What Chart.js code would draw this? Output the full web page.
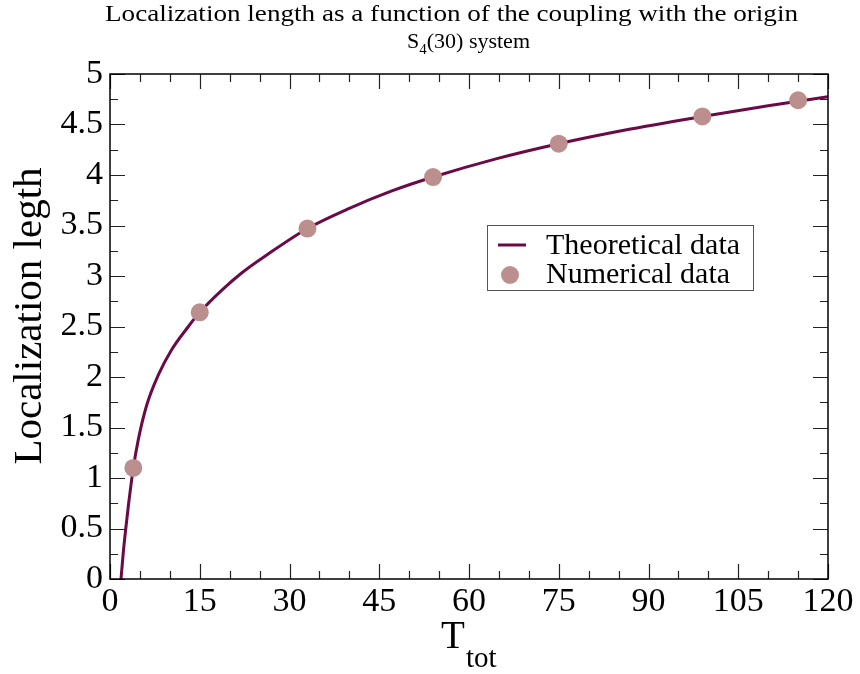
<!DOCTYPE html>
<html>
<head>
<meta charset="utf-8">
<script src="https://cdn.jsdelivr.net/npm/chart.js@4.4.0/dist/chart.umd.min.js"></script>
<style>
  html, body { margin: 0; padding: 0; background: #fff; }
  #wrap { width: 860px; height: 674px; }
</style>
</head>
<body>
<div id="wrap"><canvas id="chart" width="860" height="674"></canvas></div>
<script>
// values
const theoryX = [1.84, 2.2, 2.62, 3.06, 3.9, 4.73, 6.13, 8.08, 10.3, 13.1, 15.0, 18.7, 22.0, 26.5, 33.0, 40.0, 47.0, 54.0, 64.5, 75.0, 87.0, 99.0, 110.0, 120.0];
const theoryY = [0, 0.25, 0.49, 0.72, 1.10, 1.38, 1.72, 2.02, 2.27, 2.50, 2.64, 2.86, 3.03, 3.22, 3.47, 3.67, 3.84, 3.98, 4.16, 4.31, 4.455, 4.58, 4.685, 4.775];
const numX = [3.9, 15, 33, 54, 75, 99, 115];
const numY = [1.10, 2.64, 3.47, 3.98, 4.31, 4.58, 4.74];

const xTicks = [0, 15, 30, 45, 60, 75, 90, 105, 120];
const yTicks = [0, 0.5, 1, 1.5, 2, 2.5, 3, 3.5, 4, 4.5, 5];
const xMinorStep = 5;
const yMinorStep = 0.25;

const LINE_COLOR = '#6a0a47';
const POINT_COLOR = '#bc8f8f';
const SERIF = '"Liberation Serif", "DejaVu Serif", serif';

// frame, inward ticks (both sides), legend, titles
const decorations = {
    id: 'decorations',
    afterDraw(chart) {
        const ctx = chart.ctx;
        const a = chart.chartArea;
        const xs = chart.scales.x, ys = chart.scales.y;
        ctx.save();

        // inward ticks
        ctx.strokeStyle = '#222';
        ctx.lineWidth = 1.2;
        ctx.beginPath();
        for (let v = xs.min; v <= xs.max + 1e-9; v += xMinorStep) {
            const px = Math.round(xs.getPixelForValue(v)) + 0.5;
            const len = xTicks.includes(v) ? 15 : 8;
            ctx.moveTo(px, a.bottom); ctx.lineTo(px, a.bottom - len);
            ctx.moveTo(px, a.top); ctx.lineTo(px, a.top + len);
        }
        for (let v = ys.min; v <= ys.max + 1e-9; v += yMinorStep) {
            const py = Math.round(ys.getPixelForValue(v)) + 0.5;
            const len = yTicks.some(t => Math.abs(t - v) < 1e-9) ? 15 : 8;
            ctx.moveTo(a.left, py); ctx.lineTo(a.left + len, py);
            ctx.moveTo(a.right, py); ctx.lineTo(a.right - len, py);
        }
        ctx.stroke();

        // frame
        ctx.strokeStyle = '#000';
        ctx.lineWidth = 1.5;
        ctx.strokeRect(a.left, a.top, a.right - a.left, a.bottom - a.top);

        // legend
        const lx = 487, ly = 225, lw = 266, lh = 65;
        ctx.fillStyle = '#fff';
        ctx.fillRect(lx, ly, lw, lh);
        ctx.strokeStyle = '#555';
        ctx.lineWidth = 1;
        ctx.strokeRect(lx + 0.5, ly + 0.5, lw, lh);
        const ds = chart.data.datasets;
        ctx.font = '30px ' + SERIF;
        ctx.fillStyle = '#000';
        ctx.textAlign = 'left';
        ctx.textBaseline = 'alphabetic';
        ctx.strokeStyle = LINE_COLOR;
        ctx.lineWidth = 3;
        ctx.beginPath(); ctx.moveTo(498, 245); ctx.lineTo(526, 245); ctx.stroke();
        ctx.fillText(ds[1].label, 546, 254);
        ctx.fillStyle = POINT_COLOR;
        ctx.beginPath(); ctx.arc(510, 275, 9, 0, Math.PI * 2); ctx.fill();
        ctx.fillStyle = '#000';
        ctx.fillText(ds[0].label, 546, 283);

        // main title, stretched to the width seen in the picture
        ctx.font = '24px ' + SERIF;
        const title = 'Localization length as a function of the coupling with the origin';
        const tw = ctx.measureText(title).width;
        ctx.save();
        ctx.translate(105, 21);
        ctx.scale(693 / tw, 1);
        ctx.fillText(title, 0, 0);
        ctx.restore();

        // subtitle S_4(30) system
        ctx.font = '22px ' + SERIF;
        let x = 407;
        ctx.fillText('S', x, 48); x += ctx.measureText('S').width;
        ctx.font = '15px ' + SERIF;
        ctx.fillText('4', x, 54); x += ctx.measureText('4').width;
        ctx.font = '22px ' + SERIF;
        ctx.fillText('(30) system', x, 48);

        // x axis title T_tot
        ctx.font = '39px ' + SERIF;
        ctx.fillText('T', 441, 648);
        ctx.font = '29px ' + SERIF;
        ctx.fillText('tot', 466, 667);

        // y axis title
        ctx.save();
        ctx.translate(41, 316);
        ctx.rotate(-Math.PI / 2);
        ctx.font = '41px ' + SERIF;
        ctx.textAlign = 'center';
        ctx.fillText('Localization legth', 0, 0);
        ctx.restore();

        ctx.restore();
    }
};

new Chart(document.getElementById('chart'), {
    type: 'scatter',
    data: {
        datasets: [{
            label: 'Numerical data',
            data: numX.map((x, i) => ({ x, y: numY[i] })),
            backgroundColor: POINT_COLOR,
            borderWidth: 0,
            pointRadius: 9,
            order: 1
        }, {
            label: 'Theoretical data',
            data: theoryX.map((x, i) => ({ x, y: theoryY[i] })),
            showLine: true,
            borderColor: LINE_COLOR,
            borderWidth: 3,
            pointRadius: 0,
            cubicInterpolationMode: 'monotone',
            order: 2
        }]
    },
    options: {
        responsive: false,
        animation: false,
        layout: { padding: { top: 74, right: 32, left: 0, bottom: 0 } },
        plugins: { legend: { display: false }, tooltip: { enabled: false } },
        scales: {
            x: {
                type: 'linear', min: 0, max: 120,
                afterFit: s => { s.height = 95; },
                afterBuildTicks: s => { s.ticks = xTicks.map(v => ({ value: v })); },
                grid: { display: false, drawTicks: false },
                border: { display: false },
                ticks: { color: '#000', font: { family: SERIF, size: 34 }, padding: 3, maxRotation: 0, callback: v => String(v) }
            },
            y: {
                type: 'linear', min: 0, max: 5,
                afterFit: s => { s.width = 110; },
                afterBuildTicks: s => { s.ticks = yTicks.map(v => ({ value: v })); },
                grid: { display: false, drawTicks: false },
                border: { display: false },
                ticks: { color: '#000', font: { family: SERIF, size: 34 }, padding: 7, callback: v => String(v) }
            }
        }
    },
    plugins: [decorations]
});
</script>
</body>
</html>
